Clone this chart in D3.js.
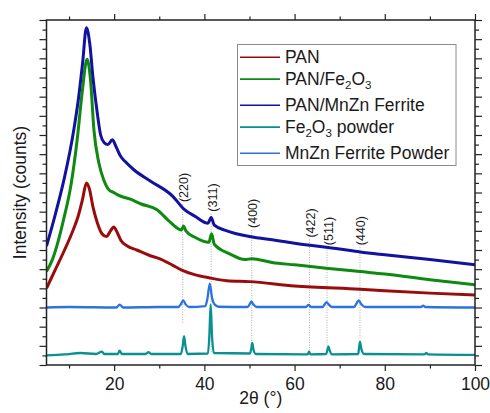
<!DOCTYPE html>
<html>
<head>
<meta charset="utf-8">
<script src="https://cdn.jsdelivr.net/npm/d3@7/dist/d3.min.js"></script>
<style>
    body { margin: 0; background: #fff; }
    text { font-family: 'Liberation Sans', Arial, sans-serif; fill: #1a1a1a; }
</style>
</head>
<body>
<svg id="chart" width="490" height="413"></svg>
<script>
'use strict';

// [2theta, intensity] - intensity in arbitrary stacked units
const pan = [
    [5, 8.0], [7, 10.0], [9, 12.0], [11, 14.2], [12, 15.5], [13, 17.3], [13.85, 19.0],
    [14.5, 18.4], [15.3, 16.5], [16.3, 14.8], [17.3, 13.7], [18.3, 13.4], [19.2, 14.0],
    [19.9, 14.4], [20.6, 13.9], [21.5, 13.0], [23, 12.4], [25, 12.0], [28, 11.4], [30, 11.1],
    [33, 10.4], [35, 9.9], [38, 9.4], [41, 9.1], [45, 8.8], [50, 8.7], [60, 8.25],
    [74.5, 7.9], [80, 7.75], [90, 7.5], [100, 7.3]
];
const panFe2o3 = [
    [5, 9.75], [6.3, 11.0], [8.8, 15.2], [10.5, 19.0], [11.8, 23.5], [12.9, 28.4], [14.0, 31.9],
    [14.8, 29.5], [15.5, 24.6], [16.6, 21.1], [17.7, 19.3], [18.8, 18.3], [19.9, 18.0],
    [21, 17.7], [23.6, 17.3], [26, 16.8], [29.5, 16.2], [32, 15.1], [34.9, 14.1], [35.4, 14.5],
    [35.9, 14.0], [38, 13.3], [41, 12.8], [41.6, 13.7], [42.2, 12.6], [45.6, 11.6], [49, 11.0],
    [50.5, 11.1], [55, 10.7], [60, 10.45], [67, 10.1], [74.5, 9.75], [80, 9.5], [90, 8.9], [100, 8.36]
];
const panMnzn = [
    [5, 12.4], [7, 15.8], [9, 19.6], [11, 24.4], [12, 27.5], [13, 31.5], [13.85, 35.2],
    [14.6, 33.5], [15.3, 30.0], [16.2, 26.5], [17.0, 24.0], [17.8, 23.2], [18.6, 23.0],
    [19.6, 23.5], [20.4, 22.8], [21.4, 21.8], [22.5, 21.2], [24.3, 20.4], [28, 19.2],
    [33, 17.6], [35.4, 16.3], [38, 15.5], [40.8, 14.8], [41.5, 15.4], [42.2, 14.6],
    [45, 14.0], [50, 13.4], [56, 13.0], [60, 12.7], [70, 12.1], [74.5, 11.8], [80, 11.5],
    [90, 11.0], [100, 10.45]
];
const fe2o3Powder = [
    [5, 1.0], [9, 1.1], [12.5, 1.25], [16, 1.15], [17.3, 1.4], [17.8, 1.15], [20.8, 1.15],
    [21.2, 1.5], [21.7, 1.15], [27, 1.15], [27.6, 1.35], [28.2, 1.15], [34.8, 1.15],
    [35.2, 2.0], [35.5, 3.0], [35.8, 2.0], [36.3, 1.15], [40.8, 1.2], [41.1, 3.0],
    [41.4, 6.3], [41.7, 3.0], [42.1, 1.25], [50.1, 1.2], [50.4, 1.7], [50.6, 2.3],
    [50.9, 1.6], [51.4, 1.15], [62.9, 1.1], [63.2, 1.4], [63.5, 1.1], [67.0, 1.15],
    [67.3, 1.6], [67.5, 1.95], [67.8, 1.5], [68.3, 1.1], [74.1, 1.15], [74.3, 1.8],
    [74.5, 2.4], [74.8, 1.7], [75.4, 1.15], [88.8, 1.1], [89.2, 1.25], [89.6, 1.1], [100, 1.05]
];
const mnznPowder = [
    [5, 6.0], [10, 6.05], [20.5, 6.0], [21.2, 6.3], [22, 6.0], [30, 6.05], [34.2, 6.05],
    [34.8, 6.35], [35.3, 6.75], [35.9, 6.3], [36.6, 6.05], [40.2, 6.15], [40.7, 7.0],
    [41.2, 8.5], [41.7, 7.0], [42.3, 6.3], [43.2, 6.08], [49.5, 6.05], [50.0, 6.3],
    [50.4, 6.6], [50.9, 6.3], [51.6, 6.05], [62.5, 6.05], [63.1, 6.27], [63.7, 6.05],
    [66.2, 6.05], [66.7, 6.35], [67.1, 6.55], [67.6, 6.3], [68.3, 6.05], [73.2, 6.05],
    [73.7, 6.4], [74.2, 6.75], [74.8, 6.35], [75.6, 6.05], [88, 6.05], [88.5, 6.2],
    [89, 6.05], [100, 6.0]
];

// legend names: [text, subscript] pieces
const seriesNames = [
    [['PAN', false]],
    [['PAN/Fe', false], ['2', true], ['O', false], ['3', true]],
    [['PAN/MnZn Ferrite', false]],
    [['Fe', false], ['2', true], ['O', false], ['3', true], [' powder', false]],
    [['MnZn Ferrite Powder', false]]
];
const seriesData = [pan, panFe2o3, panMnzn, fe2o3Powder, mnznPowder];
const seriesColors = ['#9a0c0c', '#0e8a10', '#1212a0', '#0a9090', '#2c72e0'];

// hkl reflections
const peakLabels = ['(220)', '(311)', '(400)', '(422)', '(511)', '(440)'];
const peakPos = [35.2, 41.5, 50.5, 63.3, 67.2, 74.5];
const peakLabelY = [17.0, 16.0, 14.3, 13.3, 12.5, 12.5];
const peakLineEnd = [4.3, 1.3, 1.3, 1.3, 1.3, 1.3];

const xMajor = [20, 40, 60, 80, 100];
const xMinor = [10, 30, 50, 70, 90];


const svg = d3.select('#chart');
const plot = {left: 46.5, right: 475, top: 20, bottom: 365};

const x = d3.scaleLinear().domain([5, 100]).range([plot.left, plot.right]);
const y = d3.scaleLinear().domain([0, 36]).range([plot.bottom, plot.top]);

const yMajor = d3.range(0, 37, 2);
const yMinor = d3.range(1, 36, 2);

svg.append('defs').append('clipPath').attr('id', 'clip')
    .append('rect')
    .attr('x', plot.left).attr('y', plot.top)
    .attr('width', plot.right - plot.left).attr('height', plot.bottom - plot.top);

// peak marker lines (behind curves)
svg.append('g').selectAll('line').data(peakPos).enter().append('line')
    .attr('x1', (d) => x(d))
    .attr('x2', (d) => x(d))
    .attr('y1', (d, i) => y(peakLabelY[i]) + 2)
    .attr('y2', (d, i) => y(peakLineEnd[i]))
    .attr('stroke', '#aaa')
    .attr('stroke-width', 1)
    .attr('stroke-dasharray', '1,1.5');

// curves
const line = d3.line()
    .x((d) => x(d[0]))
    .y((d) => y(d[1]))
    .curve(d3.curveMonotoneX);

svg.append('g').attr('clip-path', 'url(#clip)')
    .selectAll('path').data(seriesData).enter().append('path')
    .attr('d', (d) => line(d))
    .attr('fill', 'none')
    .attr('stroke', (d, i) => seriesColors[i])
    .attr('stroke-width', (d, i) => (i < 3) ? 3 : 2.3)
    .attr('stroke-linejoin', 'round');

// peak labels
svg.append('g').selectAll('text').data(peakLabels).enter().append('text')
    .attr('transform', (d, i) => 'translate(' + (x(peakPos[i]) + 5.5) + ',' + y(peakLabelY[i]) + ') rotate(-90)')
    .attr('font-size', 12.5)
    .attr('fill', '#333')
    .text((d) => d);

// axes: major / minor on every side
function drawAxis(axis, transform)
{
    const g = svg.append('g').attr('transform', transform).call(axis);
    g.select('.domain').remove();
    g.selectAll('.tick line').attr('stroke', '#222').attr('stroke-width', 1.2);
    g.selectAll('.tick text')
        .attr('font-size', 17.5)
        .attr('font-family', "'Liberation Sans', Arial, sans-serif")
        .attr('fill', '#1a1a1a');
    return g;
}

drawAxis(d3.axisBottom(x).tickValues(xMajor).tickSize(6).tickPadding(7).tickFormat(d3.format('d')),
    'translate(0,' + plot.bottom + ')');
drawAxis(d3.axisBottom(x).tickValues(xMinor).tickSize(3.5).tickFormat(''), 'translate(0,' + plot.bottom + ')');
drawAxis(d3.axisTop(x).tickValues(xMajor).tickSize(6).tickFormat(''), 'translate(0,' + plot.top + ')');
drawAxis(d3.axisTop(x).tickValues(xMinor).tickSize(3.5).tickFormat(''), 'translate(0,' + plot.top + ')');
drawAxis(d3.axisLeft(y).tickValues(yMajor).tickSize(7).tickFormat(''), 'translate(' + plot.left + ',0)');
drawAxis(d3.axisLeft(y).tickValues(yMinor).tickSize(4).tickFormat(''), 'translate(' + plot.left + ',0)');
drawAxis(d3.axisRight(y).tickValues(yMajor).tickSize(7).tickFormat(''), 'translate(' + plot.right + ',0)');
drawAxis(d3.axisRight(y).tickValues(yMinor).tickSize(4).tickFormat(''), 'translate(' + plot.right + ',0)');

// frame
svg.append('rect')
    .attr('x', plot.left).attr('y', plot.top)
    .attr('width', plot.right - plot.left).attr('height', plot.bottom - plot.top)
    .attr('fill', 'none')
    .attr('stroke', '#222')
    .attr('stroke-width', 1.5);

// axis titles
svg.append('text')
    .attr('x', (plot.left + plot.right) / 2)
    .attr('y', 404)
    .attr('text-anchor', 'middle')
    .attr('font-size', 17.5)
    .text('2\u03B8 (\u00B0)');

svg.append('text')
    .attr('transform', 'translate(26,' + ((plot.top + plot.bottom) / 2) + ') rotate(-90)')
    .attr('text-anchor', 'middle')
    .attr('font-size', 17.5)
    .text('Intensity (counts)');

// legend
const legend = svg.append('g');
legend.append('rect')
    .attr('x', 237.5).attr('y', 44.5)
    .attr('width', 218.5).attr('height', 121)
    .attr('fill', '#fff')
    .attr('stroke', '#8a8a8a')
    .attr('stroke-width', 1);

let rowY = 57.3;
for (let i in seriesNames)
{
    const hasSub = seriesNames[i].some((p) => p[1]);
    legend.append('line')
        .attr('x1', 240).attr('x2', 280)
        .attr('y1', rowY).attr('y2', rowY)
        .attr('stroke', seriesColors[i])
        .attr('stroke-width', 1.6);

    const t = legend.append('text')
        .attr('x', 285)
        .attr('y', rowY + 6)
        .attr('font-size', 17.5);
    for (let p of seriesNames[i])
    {
        if (p[1])
        {
            t.append('tspan').attr('font-size', 11.5).attr('dy', 4).text(p[0]);
        }
        else
        {
            const s = t.append('tspan').text(p[0]);
            if (t.selectAll('tspan').size() > 1) s.attr('dy', -4);
        }
    }
    rowY += hasSub ? 26.2 : 21.8;
}
</script>
</body>
</html>
